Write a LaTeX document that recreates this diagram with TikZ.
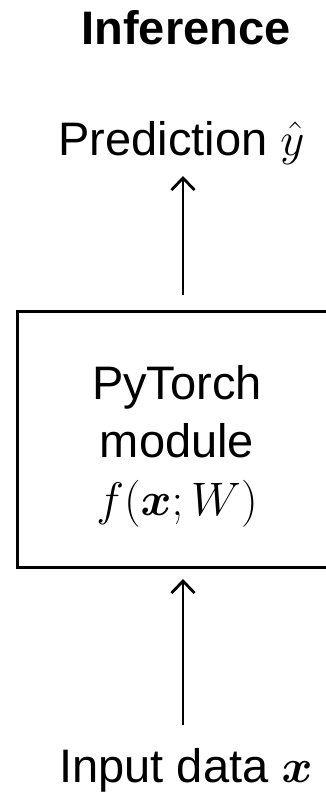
\documentclass[tikz,border=0pt]{standalone}
\usepackage{fix-cm}
\usepackage{amsmath,bm}
\usepackage{fontspec}
\setmainfont{Liberation Sans}
\usetikzlibrary{arrows.meta}
\tikzset{
  txt/.style={inner sep=0pt, font=\fontsize{47}{58}\selectfont},
  modbox/.style={draw, line width=3pt, minimum width=320pt, minimum height=256pt, inner sep=0pt},
  arr/.style={line width=2.8pt, -{Straight Barb[length=12pt,width=23pt,line width=2.8pt]}}
}
\begin{document}
\begin{tikzpicture}[x=1pt,y=-1pt]
\clip (0,0) rectangle (326,792);
\node[txt, anchor=base] (title) at (186,45) {\bfseries Inference};
\node[txt, anchor=base] (pred) at (181.5,155) {Prediction $\hat{y}$};
\node[modbox] (box) at (177,439) {};
\node[txt, align=center, anchor=base] (boxtext) at (177,515) {PyTorch\\module\\$f(\bm{x};W)$};
\node[txt, anchor=base] (inp) at (186,782) {Input data $\bm{x}$};
\coordinate (a1s) at (183,295);
\coordinate (a1e) at (183,176);
\coordinate (a2s) at (183,725);
\coordinate (a2e) at (183,579);
\draw[arr] (a1s) -- (a1e);
\draw[arr] (a2s) -- (a2e);
\end{tikzpicture}
\end{document}
